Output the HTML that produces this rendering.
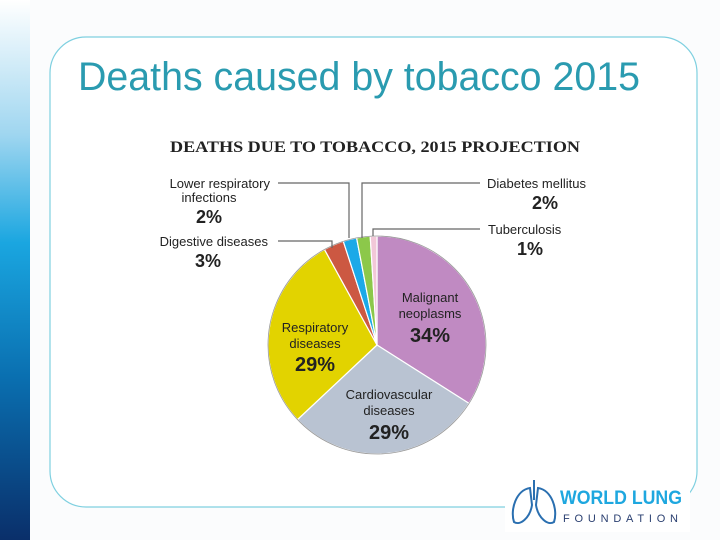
<!DOCTYPE html>
<html><head><meta charset="utf-8"><style>
body{margin:0;width:720px;height:540px;overflow:hidden;background:#fff;font-family:"Liberation Sans",sans-serif}
</style></head><body>
<svg width="720" height="540" viewBox="0 0 720 540" xmlns="http://www.w3.org/2000/svg" style="position:absolute;left:0;top:0">
<defs>
<linearGradient id="bar" x1="0" y1="0" x2="0" y2="1">
<stop offset="0" stop-color="#ffffff"/>
<stop offset="0.25" stop-color="#9fd6f0"/>
<stop offset="0.45" stop-color="#1aa6e0"/>
<stop offset="0.7" stop-color="#0a6fb0"/>
<stop offset="1" stop-color="#0a2f6a"/>
</linearGradient>
</defs>
<rect x="0" y="0" width="720" height="540" fill="#fbfcfd"/>
<rect x="0" y="0" width="30" height="540" fill="url(#bar)"/>
<rect x="50" y="37" width="647" height="470" rx="36" fill="#fff" stroke="#7fd0e0" stroke-width="1.2"/>
<text x="78" y="90" font-size="40" fill="#2a9bb0" font-family="Liberation Sans, sans-serif" textLength="562" lengthAdjust="spacingAndGlyphs">Deaths caused by tobacco 2015</text>
<rect x="125" y="108" width="487" height="367" fill="#fff"/>
<text x="170" y="152" font-size="16" font-weight="bold" font-family="Liberation Serif, serif" fill="#222" textLength="410" lengthAdjust="spacingAndGlyphs">DEATHS DUE TO TOBACCO, 2015 PROJECTION</text>
<g stroke="#fff" stroke-width="1.2">
<path d="M377,345 L377,236 A109,109 0 0 1 469,403.4 Z" fill="#c08ac2"/>
<path d="M377,345 L469,403.4 A109,109 0 0 1 297.5,419.6 Z" fill="#b9c3d2"/>
<path d="M377,345 L297.5,419.6 A109,109 0 0 1 324.5,249.5 Z" fill="#e2d300"/>
<path d="M377,345 L324.5,249.5 A109,109 0 0 1 343.3,241.3 Z" fill="#cc5842"/>
<path d="M377,345 L343.3,241.3 A109,109 0 0 1 356.6,237.9 Z" fill="#1ba9e8"/>
<path d="M377,345 L356.6,237.9 A109,109 0 0 1 370.2,236.2 Z" fill="#8cc84a"/>
<path d="M377,345 L370.2,236.2 A109,109 0 0 1 377,236 Z" fill="#f2c8d8"/>
</g>
<circle cx="377" cy="345" r="109" fill="none" stroke="#999" stroke-width="0.8"/>
<g stroke="#666" stroke-width="1.2" fill="none">
<polyline points="278,183 349,183 349,238"/>
<polyline points="480,183 362,183 362,238"/>
<polyline points="278,241 332,241 332,248"/>
<polyline points="480,229 373,229 373,236"/>
</g>
<g font-size="13" fill="#222">
<text x="270" y="188" text-anchor="end">Lower respiratory</text>
<text x="209" y="202" text-anchor="middle">infections</text>
<text x="209" y="223" text-anchor="middle" font-size="18" font-weight="bold">2%</text>
<text x="268" y="246" text-anchor="end">Digestive diseases</text>
<text x="208" y="267" text-anchor="middle" font-size="18" font-weight="bold">3%</text>
<text x="487" y="188">Diabetes mellitus</text>
<text x="545" y="209" text-anchor="middle" font-size="18" font-weight="bold">2%</text>
<text x="488" y="234">Tuberculosis</text>
<text x="530" y="255" text-anchor="middle" font-size="18" font-weight="bold">1%</text>
<text x="430" y="302" text-anchor="middle">Malignant</text>
<text x="430" y="318" text-anchor="middle">neoplasms</text>
<text x="430" y="342" text-anchor="middle" font-size="20" font-weight="bold">34%</text>
<text x="315" y="332" text-anchor="middle">Respiratory</text>
<text x="315" y="348" text-anchor="middle">diseases</text>
<text x="315" y="371" text-anchor="middle" font-size="20" font-weight="bold">29%</text>
<text x="389" y="399" text-anchor="middle">Cardiovascular</text>
<text x="389" y="415" text-anchor="middle">diseases</text>
<text x="389" y="439" text-anchor="middle" font-size="20" font-weight="bold">29%</text>
</g>
<rect x="505" y="476" width="185" height="56" fill="#fff"/>
<g fill="none" stroke="#2a6fb0" stroke-width="2">
<path d="M530,488 C516,490 510,510 514,522 C520,526 530,518 532,505 Z"/>
<path d="M538,488 C552,490 558,510 554,522 C548,526 538,518 536,505 Z"/>
<line x1="534" y1="480" x2="534" y2="500"/>
</g>
<text x="560" y="504" font-size="19" font-weight="bold" fill="#1ea7df" textLength="122" lengthAdjust="spacingAndGlyphs">WORLD LUNG</text>
<text x="563" y="522" font-size="11" fill="#2a3f70" letter-spacing="3" textLength="118">FOUNDATION</text>
</svg>
</body></html>
